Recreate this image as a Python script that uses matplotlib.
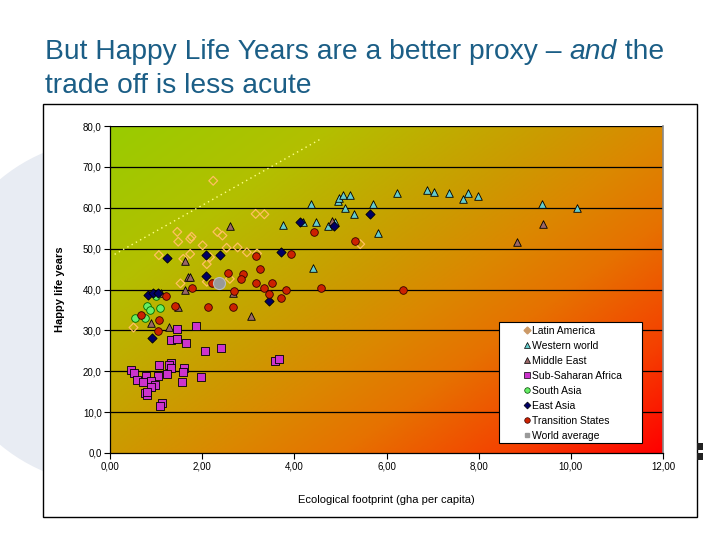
import numpy as np
import matplotlib
matplotlib.use("Agg")
import matplotlib.pyplot as plt
from matplotlib.colors import LinearSegmentedColormap
from matplotlib.patches import Rectangle, Ellipse
from matplotlib.lines import Line2D

plt.rcParams['font.family'] = ['Liberation Sans', 'DejaVu Sans']

# data (x = ecological footprint, y = happy life years)
latin_x = [2.24, 3.16, 3.35, 1.46, 1.48, 1.74, 1.77, 2.33, 2.44, 2.01, 2.53, 2.77,
           2.97, 3.19, 1.74, 1.06, 1.59, 2.17, 2.10, 2.60, 1.53, 2.10, 0.51, 5.43]
latin_y = [66.6, 58.5, 58.4, 54.1, 51.7, 52.4, 52.9, 54.1, 53.2, 50.8, 50.2, 50.3,
           49.1, 48.8, 48.7, 48.4, 47.5, 47.9, 46.2, 42.6, 41.5, 41.9, 30.7, 51.1]

western_x = [3.75, 4.36, 4.18, 4.47, 4.72, 4.88, 4.94, 4.98, 5.06, 5.21, 5.10, 5.30,
             5.70, 5.82, 6.22, 6.87, 7.02, 7.36, 7.76, 7.65, 7.99, 4.40, 9.37, 10.13]
western_y = [55.8, 60.9, 56.4, 56.4, 55.5, 56.4, 61.6, 62.5, 63.1, 63.1, 59.9, 58.5,
             60.9, 53.8, 63.6, 64.3, 63.8, 63.6, 63.6, 62.1, 62.9, 45.3, 61.0, 59.9]

middle_x = [2.60, 1.63, 1.69, 1.74, 1.63, 2.66, 1.11, 1.47, 0.88, 1.28, 3.05, 4.81, 9.40, 8.83]
middle_y = [55.6, 47.0, 43.0, 43.1, 39.9, 39.2, 39.2, 35.8, 31.9, 30.8, 33.6, 56.8, 56.0, 51.5]

ssa_x = [1.86, 1.45, 1.32, 1.45, 1.66, 2.06, 2.40, 3.58, 3.67, 1.32, 1.27, 1.06, 1.32, 1.61,
         1.58, 1.23, 0.46, 0.52, 0.58, 0.78, 1.04, 1.97, 0.72, 0.88, 0.98, 0.90, 1.56, 0.76,
         0.80, 0.81, 1.12, 1.09]
ssa_y = [31.1, 30.3, 27.6, 27.9, 27.0, 25.0, 25.8, 22.6, 23.0, 22.1, 21.5, 21.5, 20.7, 20.9,
         19.9, 19.3, 20.3, 19.6, 17.9, 18.9, 18.8, 18.7, 17.4, 17.7, 16.6, 16.2, 17.4, 14.8,
         14.2, 15.0, 12.3, 11.6]

sa_x = [0.80, 0.87, 1.09, 0.54, 0.75, 0.99]
sa_y = [36.0, 35.0, 35.5, 33.1, 33.1, 38.4]

ea_x = [4.13, 4.85, 5.64, 3.71, 1.23, 2.08, 2.39, 2.08, 0.83, 0.94, 1.05, 3.46, 0.92]
ea_y = [56.4, 55.5, 58.5, 49.1, 47.8, 48.4, 48.4, 43.4, 38.6, 39.1, 39.2, 37.2, 28.2]

ts_x = [1.22, 1.79, 2.21, 2.57, 2.89, 2.84, 3.26, 3.16, 3.93, 3.16, 3.34, 3.51, 3.82,
        3.45, 3.70, 2.68, 1.41, 2.12, 2.66, 0.67, 1.07, 1.05, 4.42, 5.32, 4.57, 6.35]
ts_y = [38.5, 40.3, 41.5, 44.1, 43.8, 42.5, 44.9, 48.2, 48.6, 41.7, 40.3, 41.7, 39.9,
        38.9, 38.0, 39.7, 36.0, 35.6, 35.8, 33.8, 32.5, 29.9, 54.1, 51.9, 40.4, 40.0]

world_x = [2.37]
world_y = [41.5]

# dotted reference line
ref_x = [0.1, 4.6]
ref_y = [48.6, 77.0]

yticks = [0, 10, 20, 30, 40, 50, 60, 70, 80]
ytick_labels = ['0,0', '10,0', '20,0', '30,0', '40,0', '50,0', '60,0', '70,0', '80,0']
xticks = [0, 2, 4, 6, 8, 10, 12]
xtick_labels = ['0,00', '2,00', '4,00', '6,00', '8,00', '10,00', '12,00']

fig = plt.figure(figsize=(7.2, 5.4), dpi=100)
fig.patch.set_facecolor('white')

# slide decoration: pale circle on the left
fig.patches.append(Ellipse((111/720, 1 - 312/540), 2*173/720, 2*173/540,
                           transform=fig.transFigure, facecolor='#e8ecf3',
                           edgecolor='none', zorder=0))
# chart box
fig.patches.append(Rectangle((43/720, 1 - 517/540), 654/720, 413/540,
                             transform=fig.transFigure, facecolor='white',
                             edgecolor='black', linewidth=1.0, zorder=1))
fig.patches.append(Rectangle((697/720, 1 - 450/540), 6/720, 7/540,
                             transform=fig.transFigure, facecolor='#222222',
                             edgecolor='none', zorder=1))
fig.patches.append(Rectangle((697/720, 1 - 460/540), 6/720, 7/540,
                             transform=fig.transFigure, facecolor='#222222',
                             edgecolor='none', zorder=1))

ax = fig.add_axes([110/720, 1 - 453/540, 553/720, 327/540])
ax.set_zorder(2)

# gradient background green -> gold -> orange -> red
cmap = LinearSegmentedColormap.from_list('bg', [(0.0, '#99cc00'), (0.22, '#b3bf00'),
                                                (0.45, '#cc9a00'), (0.56, '#db8800'),
                                                (0.68, '#e67200'), (0.85, '#f54000'),
                                                (1.0, '#ff0000')])
u = np.linspace(0, 1, 300)
v = np.linspace(0, 1, 200)
U, V = np.meshgrid(u, v)
T = 0.55 * U + 0.45 * V
ax.imshow(cmap(T), extent=[0, 12, 0, 80], origin='upper', aspect='auto',
          interpolation='bilinear', zorder=0)

for yv in yticks[1:]:
    ax.axhline(yv, color='black', linewidth=0.9, zorder=1)

ax.plot(ref_x, ref_y, linestyle=(0, (1, 2.5)), color='#ffff88', linewidth=1.0, zorder=2)

ax.scatter(latin_x, latin_y, marker='D', s=20, facecolors='none', edgecolors='#ffc060',
           linewidths=0.9, zorder=3)
ax.scatter(western_x, western_y, marker='^', s=30, facecolors='#66cccc', edgecolors='black',
           linewidths=0.6, zorder=3)
ax.scatter(middle_x, middle_y, marker='^', s=30, facecolors='#996666', edgecolors='black',
           linewidths=0.6, zorder=3)
ax.scatter(ssa_x, ssa_y, marker='s', s=28, facecolors='#cc33cc', edgecolors='black',
           linewidths=0.6, zorder=3)
ax.scatter(sa_x, sa_y, marker='o', s=30, facecolors='#66ee66', edgecolors='#006600',
           linewidths=0.6, zorder=3)
ax.scatter(ea_x, ea_y, marker='D', s=22, facecolors='#000066', edgecolors='black',
           linewidths=0.6, zorder=3)
ax.scatter(ts_x, ts_y, marker='o', s=30, facecolors='#cc2200', edgecolors='#330000',
           linewidths=0.6, zorder=3)
ax.scatter(world_x, world_y, marker='o', s=75, facecolors='#999999', edgecolors='#bbbbbb',
           linewidths=0.8, zorder=3)

ax.set_xlim(0, 12)
ax.set_ylim(0, 80)
ax.set_xticks(xticks)
ax.set_xticklabels(xtick_labels)
ax.set_yticks(yticks)
ax.set_yticklabels(ytick_labels)
ax.tick_params(axis='both', labelsize=7, length=4, width=0.8, direction='out', pad=2)
ax.spines['top'].set_visible(False)
ax.spines['right'].set_color('#888888')
ax.spines['right'].set_linewidth(1.2)
ax.spines['left'].set_linewidth(0.9)
ax.spines['bottom'].set_linewidth(0.9)

ax.set_ylabel('Happy life years', fontsize=8, fontweight='bold', labelpad=13)
ax.set_xlabel('Ecological footprint (gha per capita)', fontsize=8, labelpad=17)

# legend: white box plus entries
ax.add_patch(Rectangle((0.7034, 0.0306), 0.2586, 0.37, transform=ax.transAxes,
                       facecolor='white', edgecolor='black', linewidth=0.8, zorder=4))
handles = [
    Line2D([], [], linestyle='none', marker='D', markersize=3.5, markerfacecolor='#cc9966',
           markeredgecolor='#cc9966', label='Latin America'),
    Line2D([], [], linestyle='none', marker='^', markersize=4.5, markerfacecolor='#66cccc',
           markeredgecolor='black', markeredgewidth=0.5, label='Western world'),
    Line2D([], [], linestyle='none', marker='^', markersize=4.5, markerfacecolor='#996666',
           markeredgecolor='black', markeredgewidth=0.5, label='Middle East'),
    Line2D([], [], linestyle='none', marker='s', markersize=4, markerfacecolor='#cc33cc',
           markeredgecolor='black', markeredgewidth=0.5, label='Sub-Saharan Africa'),
    Line2D([], [], linestyle='none', marker='o', markersize=4, markerfacecolor='#66ee66',
           markeredgecolor='#004400', markeredgewidth=0.5, label='South Asia'),
    Line2D([], [], linestyle='none', marker='D', markersize=3.5, markerfacecolor='#000066',
           markeredgecolor='black', markeredgewidth=0.5, label='East Asia'),
    Line2D([], [], linestyle='none', marker='o', markersize=4, markerfacecolor='#cc2200',
           markeredgecolor='#330000', markeredgewidth=0.5, label='Transition States'),
    Line2D([], [], linestyle='none', marker='s', markersize=3.5, markerfacecolor='#999999',
           markeredgecolor='#999999', label='World average'),
]
leg = ax.legend(handles=handles, loc='upper left', bbox_to_anchor=(0.748, 0.389),
                fontsize=7.5, frameon=False, handlelength=0.6, handletextpad=0.2,
                labelspacing=0.48, borderpad=0, borderaxespad=0)
leg.set_zorder(5)

# title with an italic word
tcol = '#1b5e86'
tsize = 20.3
t1 = fig.text(45/720, 1 - 65/540, 'But Happy Life Years are a better proxy \u2013 ',
              fontsize=tsize, color=tcol, va='bottom', ha='left')
t2 = ax.annotate('and', xy=(1, 0), xycoords=t1, va='bottom', ha='left',
                 fontsize=tsize, color=tcol, style='italic', annotation_clip=False)
t3 = ax.annotate(' the', xy=(1, 0), xycoords=t2, va='bottom', ha='left',
                 fontsize=tsize, color=tcol, annotation_clip=False)
fig.text(45/720, 1 - 99/540, 'trade off is less acute', fontsize=tsize, color=tcol,
         va='bottom', ha='left')

fig.savefig('out.png', dpi=100)
